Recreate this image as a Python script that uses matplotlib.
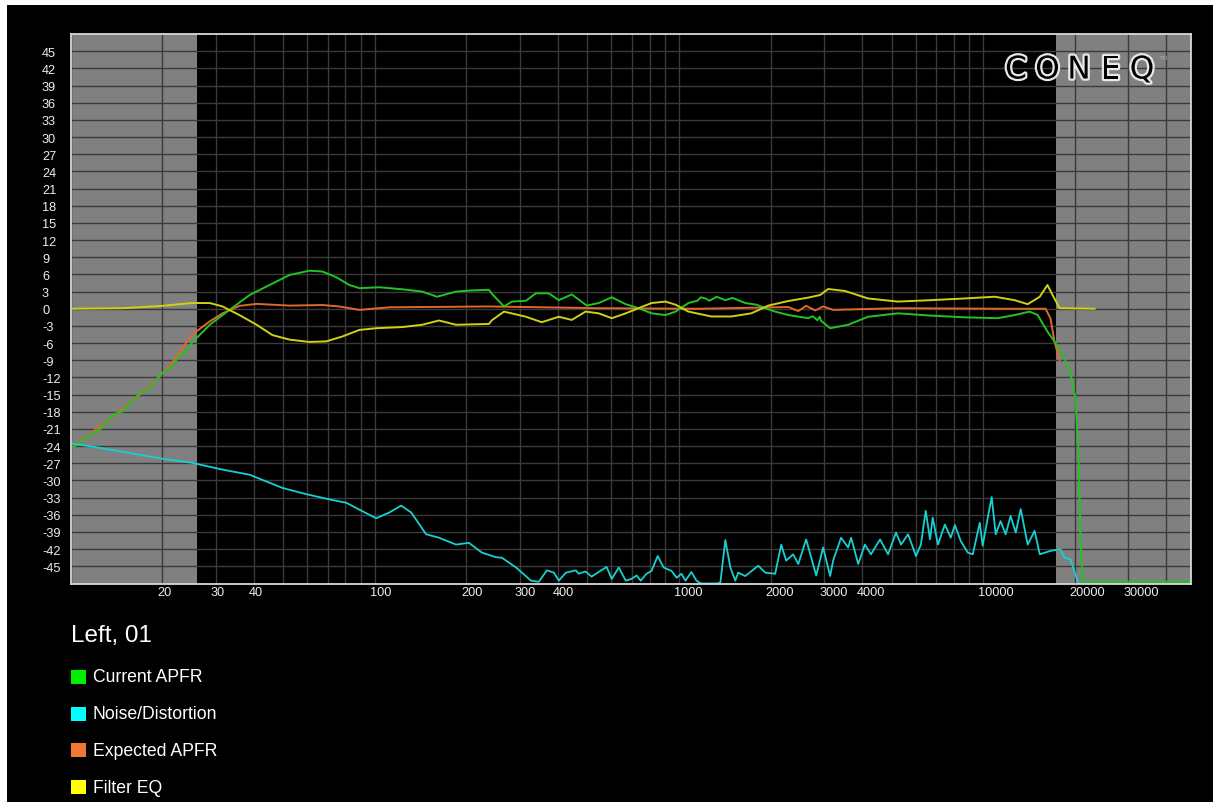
import numpy as np
import matplotlib
matplotlib.use("Agg")
import matplotlib.pyplot as plt
import matplotlib.transforms as mtransforms
import matplotlib.patheffects as pe
from matplotlib.patches import Rectangle

plt.rcParams['font.family'] = ['Liberation Sans', 'DejaVu Sans']

# ---- data ----
green_f = [10.0, 11.6, 12.5, 13.8, 14.9, 16.9, 18.2, 20.0, 21.2, 22.9, 24.1, 25.0, 28.7, 33.3,
           38.8, 45.1, 52.5, 61.0, 67.3, 74.8, 82.5, 89.0, 103.5, 123.1, 143.2, 160.3, 185,
           208.8, 237.3, 242.8, 265.9, 282.4, 314.0, 338.5, 373.5, 402.6, 444.2, 497.7,
           544.5, 601.2, 668.3, 736.5, 812.5, 903.0, 974.8, 1074, 1150, 1180, 1221, 1260, 1330,
           1420, 1500, 1651, 1800, 1921, 2071, 2286, 2660, 2750, 2850, 2900, 2931, 3139, 3597,
           4182, 5245, 6730, 8695, 11160, 12680, 14200, 15100, 16260, 17140, 18490, 19360,
           20090, 20560, 20880, 21190, 48000]
green_db = [-24.6, -22.0, -21.1, -18.5, -17.9, -14.7, -13.9, -11.2, -10.5, -8.1, -7.4, -6.0,
            -2.8, -0.2, 2.4, 4.15, 5.9, 6.65, 6.5, 5.5, 4.15, 3.6, 3.75, 3.4, 3.0, 2.1, 3.0,
            3.2, 3.3, 2.6, 0.4, 1.25, 1.4, 2.7, 2.7, 1.5, 2.5, 0.55, 1.0, 2.0, 0.8, 0.1, -0.8,
            -1.1, -0.5, 1.0, 1.4, 2.0, 1.8, 1.4, 2.1, 1.5, 1.9, 1.0, 0.7, 0.1, -0.5, -1.1, -1.65,
            -1.3, -2.0, -1.4, -2.1, -3.4, -2.8, -1.4, -0.8, -1.2, -1.5, -1.65, -1.1, -0.5, -1.1,
            -4.0, -5.7, -8.6, -11.5, -15.6, -25.0, -40.0, -47.7, -47.7]

noise_f = [10.0, 12.5, 20.0, 25.0, 31.6, 38.8, 49.7, 59.6, 70.9, 80.7, 89.0, 101.1, 111.6, 122.1,
           131.8, 147.5, 162.6, 185, 204, 225, 250, 261.8, 293, 326, 346, 368, 388, 402.6,
           425, 458, 468, 493, 516, 578, 601.2, 634, 668.3, 698, 726, 748, 782, 812.5, 851, 890,
           945, 982, 1019, 1050, 1099, 1141, 1180, 1340, 1368, 1420, 1475, 1531, 1566, 1651,
           1822, 1921, 2071, 2168, 2250, 2373, 2466, 2618, 2825, 2977, 3139, 3211, 3410, 3597,
           3680, 3882, 4083, 4275, 4580, 4866, 5168, 5370, 5662, 6012, 6238, 6471, 6683, 6823,
           7096, 7480, 7820, 8070, 8440, 8895, 9240, 9740, 9955, 10350, 10660, 10990, 11400,
           11850, 12300, 12790, 13280, 14000, 14750, 15340, 16640, 17950, 18490, 19360, 20400,
           20700]
noise_db = [-23.5, -24.3, -26.2, -26.9, -28.1, -29.0, -31.3, -32.4, -33.3, -33.9, -35.1, -36.6,
            -35.6, -34.4, -35.6, -39.4, -40.0, -41.2, -40.9, -42.6, -43.4, -43.5, -45.3, -47.5,
            -47.7, -45.7, -46.1, -47.5, -46.1, -45.7, -46.3, -45.9, -46.8, -45.1, -47.2, -45.2,
            -47.5, -47.2, -46.6, -47.5, -46.3, -45.8, -43.2, -45.2, -45.8, -47.0, -46.3, -47.5,
            -46.0, -47.5, -48.0, -48.0, -47.8, -40.4, -45.2, -47.5, -46.1, -46.7, -44.9, -46.1,
            -46.3, -41.2, -44.0, -42.9, -44.6, -40.3, -46.6, -41.7, -46.7, -44.0, -40.0, -41.7,
            -40.0, -44.6, -41.2, -42.9, -40.3, -42.9, -39.1, -41.2, -39.4, -43.2, -41.2, -35.3,
            -40.3, -36.5, -41.2, -37.7, -40.0, -37.8, -40.6, -42.6, -42.9, -37.4, -41.4, -36.5,
            -32.9, -39.4, -37.1, -39.4, -36.2, -39.1, -35.0, -41.2, -38.8, -42.9, -42.3, -42.0,
            -43.5, -43.8, -47.5, -49.0]

expected_f = [10.0, 12.5, 14.9, 18.2, 21.2, 22.9, 25.0, 28.7, 31.6, 35.9, 40.9, 52.5, 67.3, 76.5,
              89.0, 111.6, 237.3, 544.5, 1159, 2286, 2466, 2618, 2803, 2977, 3211, 5245, 11160,
              16030, 16640, 17140, 17820]
expected_db = [-24.5, -20.5, -17.5, -13.5, -10.0, -7.5, -4.6, -2.2, -0.8, 0.5, 0.85, 0.55, 0.65,
               0.4, -0.2, 0.25, 0.4, 0.1, 0.0, 0.3, -0.4, 0.5, -0.3, 0.4, -0.2, 0.1, 0.0, 0.0,
               -1.7, -5.7, -9.0]

filter_f = [10.0, 14.9, 20.0, 25.0, 28.7, 31.6, 35.9, 40.9, 46.1, 52.5, 61.0, 69.3, 78.2, 89.0,
            101.1, 123.1, 143.2, 162.6, 185, 237.3, 242.8, 265.9, 297.6, 314.0, 354, 402.6,
            444.2, 493, 544.5, 601.2, 668.3, 736.5, 812.5, 903.0, 974.8, 1074, 1279, 1487, 1729,
            1965, 2286, 2660, 2911, 3092, 3516, 4182, 5245, 6730, 8695, 10910, 12680, 14000,
            15340, 16260, 16900, 17820, 23230]
filter_db = [0.0, 0.1, 0.5, 1.0, 1.0, 0.4, -1.1, -2.8, -4.6, -5.4, -5.8, -5.7, -4.85, -3.7, -3.4,
             -3.2, -2.8, -2.05, -2.8, -2.65, -2.0, -0.5, -1.1, -1.4, -2.35, -1.4, -1.95, -0.5,
             -0.8, -1.65, -0.8, 0.1, 1.0, 1.25, 0.7, -0.5, -1.35, -1.35, -0.8, 0.55, 1.35, 1.95,
             2.4, 3.45, 3.1, 1.8, 1.25, 1.5, 1.8, 2.1, 1.5, 0.8, 2.1, 4.15, 2.4, 0.1, 0.0]

x_labels = [20, 30, 40, 100, 200, 300, 400, 1000, 2000, 3000, 4000, 10000, 20000, 30000]
y_ticks = list(range(-45, 46, 3))
legend_names = ['Current APFR', 'Noise/Distortion', 'Expected APFR', 'Filter EQ']
legend_colors = ['#00f000', '#00ffff', '#f07830', '#ffff00']

W, H = 1213, 803
fig = plt.figure(figsize=(W / 100, H / 100), dpi=100, facecolor='white')
fig.patches.append(Rectangle((7 / W, 0), 1, 1 - 6 / H, transform=fig.transFigure,
                             facecolor='black', edgecolor='none', zorder=-10))

ax = fig.add_axes([70.5 / W, 1 - 584.5 / H, 1120 / W, 549.5 / H])
ax.set_facecolor('black')
ax.set_xscale('log')
ax.set_xlim(10, 48000)
ax.set_ylim(-48, 48)

# grey out-of-range zones
ax.axvspan(10, 26, color='#808080', zorder=0.2, lw=0)
ax.axvspan(17300, 48000, color='#808080', zorder=0.2, lw=0)

grid_f = [m * 10 ** e for e in range(1, 5) for m in range(1, 10) if m * 10 ** e < 48000]
ax.set_xticks(grid_f)
ax.set_xticklabels([])
ax.set_yticks(y_ticks)
ax.set_yticklabels([str(v) for v in y_ticks])
ax.minorticks_off()
ax.set_axisbelow(True)
ax.grid(True, color='#3a3a3a', lw=1.0)
ax.tick_params(length=0)
ax.tick_params(axis='y', pad=20.5, labelsize=9.2, labelcolor='#eeeeee')
for lbl in ax.get_yticklabels():
    lbl.set_ha('left')

trans = mtransforms.offset_copy(ax.get_xaxis_transform(), fig=fig, x=-5, y=-3, units='dots')
for f in x_labels:
    ax.text(f, 0, str(f), transform=trans, ha='left', va='top', fontsize=9.2, color='#eeeeee')

for s in ax.spines.values():
    s.set_color('#d8d8d8')
    s.set_linewidth(1.3)
    s.set_zorder(5)

ax.plot(expected_f, expected_db, color='#e0682a', lw=1.4, solid_joinstyle='round')
ax.plot(green_f, green_db, color='#22c322', lw=1.4, solid_joinstyle='round')
ax.plot(noise_f, noise_db, color='#18d0d0', lw=1.3, solid_joinstyle='round')
ax.plot(filter_f, filter_db, color='#d0d014', lw=1.4, solid_joinstyle='round')

# logo
for i, ch in enumerate('CONEQ'):
    fig.text((1016 + 31.5 * i) / W, 1 - 79.5 / H, ch, ha='center', va='baseline',
             fontsize=22.5, color='black', family='DejaVu Sans',
             path_effects=[pe.withStroke(linewidth=3.2, foreground='#e8e8e8')])
fig.text(1160 / W, 1 - 60 / H, 'TM', fontsize=4, color='#aaaaaa')

# legend block
fig.text(71 / W, 1 - 636.5 / H, 'Left, 01', fontsize=17.5, color='white', va='center')
for i, (name, col) in enumerate(zip(legend_names, legend_colors)):
    yc = 678 + 36.7 * i
    fig.patches.append(Rectangle((71 / W, 1 - (yc + 7) / H), 14.5 / W, 14 / H,
                                 transform=fig.transFigure, facecolor=col, edgecolor='none'))
    fig.text(93 / W, 1 - yc / H, name, fontsize=12.7, color='white', va='center')

fig.savefig('out.png', dpi=100, facecolor=fig.get_facecolor())
